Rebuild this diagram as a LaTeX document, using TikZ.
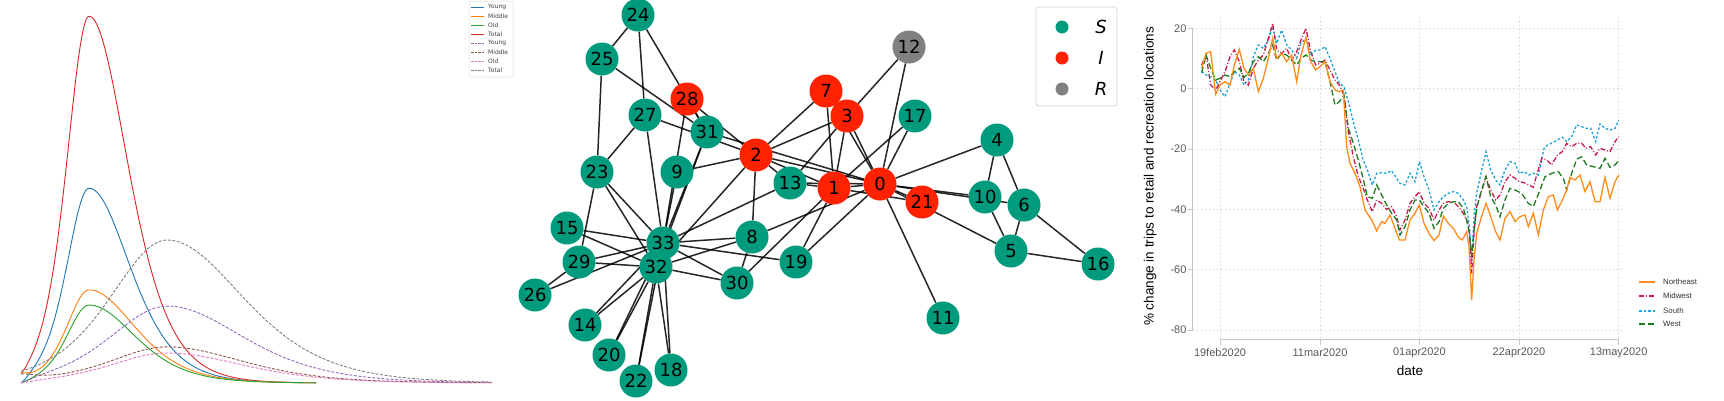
\documentclass[tikz,border=0pt]{standalone}
\usepackage{fontspec}
\setmainfont{DejaVu Sans}
\newfontfamily\arialf{Liberation Sans}
\pgfdeclarelayer{bg}
\pgfsetlayers{bg,main}
\definecolor{tabblue}{HTML}{1F77B4}
\definecolor{taborange}{HTML}{FF7F0E}
\definecolor{tabgreen}{HTML}{2CA02C}
\definecolor{tabred}{HTML}{D62728}
\definecolor{tabpurple}{HTML}{9467BD}
\definecolor{tabbrown}{HTML}{8C564B}
\definecolor{tabpink}{HTML}{E377C2}
\definecolor{tabgray}{HTML}{7F7F7F}
\definecolor{cS}{HTML}{009B7D}
\definecolor{cI}{HTML}{FF2200}
\definecolor{cR}{HTML}{808080}
\definecolor{neC}{HTML}{FF8C1A}
\definecolor{mwC}{HTML}{CC1A4C}
\definecolor{soC}{HTML}{1CA3DA}
\definecolor{weC}{HTML}{1E7A1E}
\begin{document}
\begin{tikzpicture}[x=1pt,y=-1pt,
  declare function={sk(\t,\p,\l,\r)=1/(cosh((\t-\p)/(((\t<\p)*\l)+((\t>=\p)*\r))))^2;
                    bump(\t,\w)=1/(1+((\t-21)/\w)^2);},
  sol/.style={line width=0.9pt},
  dsh/.style={line width=0.9pt, dash pattern=on 3pt off 1.6pt},
  gn/.style={circle, inner sep=0pt, minimum size=33pt, font=\fontsize{18}{18}\selectfont, text=black},
  edge/.style={line width=1.5pt, black, opacity=0.85},
  grd/.style={gray!45, line width=0.6pt, dash pattern=on 0.8pt off 3.2pt},
  ax/.style={gray!45, line width=0.9pt},
  tkl/.style={font=\arialf\fontsize{11}{13}\selectfont, text=black!65},
  ne/.style={neC, line width=1.3pt},
  mw/.style={mwC, line width=1.3pt, dash pattern=on 5pt off 2pt on 1pt off 2pt},
  so/.style={soC, line width=1.3pt, dash pattern=on 2.5pt off 2pt},
  we/.style={weC, line width=1.3pt, dash pattern=on 6pt off 3pt},
  lgt/.style={font=\fontsize{6}{7}\selectfont, text=black!75, anchor=west, inner sep=0pt},
  lg3/.style={font=\arialf\fontsize{7.8}{9}\selectfont, text=black!80, anchor=west, inner sep=0pt}]
\useasboundingbox (0,0) rectangle (1724,400);
\begin{pgfonlayer}{bg}
\fill[white] (0,0) rectangle (1724,400);
\end{pgfonlayer}

% ---------------- panel 1 : curves ----------------
\draw[sol, tabred] plot[domain=21:316, samples=160] (\x,{383-367*sk(\x,89,30,52)+6*bump(\x,10)});
\draw[sol, tabblue] plot[domain=21:316, samples=160] (\x,{383-195*sk(\x,89,30,55)+8*bump(\x,10)});
\draw[sol, taborange] plot[domain=21:316, samples=160] (\x,{383-93*sk(\x,89,30,62)-6*bump(\x,10)});
\draw[sol, tabgreen] plot[domain=21:316, samples=160] (\x,{383-78*sk(\x,89,30,62)+3*bump(\x,10)});
\draw[dsh, tabgray] plot[domain=21:492, samples=160] (\x,{383-143*sk(\x,167,76,102)});
\draw[dsh, tabpurple] plot[domain=21:492, samples=160] (\x,{383-77*sk(\x,167,76,102)+6*bump(\x,15)});
\draw[dsh, tabbrown] plot[domain=21:492, samples=160] (\x,{383-36*sk(\x,167,76,102)-6*bump(\x,20)});
\draw[dsh, tabpink] plot[domain=21:492, samples=160] (\x,{383-30*sk(\x,167,76,102)+2.3*bump(\x,15)});

% legend panel 1
\draw[rounded corners=2pt, draw=gray!30, fill=white, line width=0.5pt] (469,1) rectangle (513,77);
\foreach \k/\t/\c/\s in {0/Young/tabblue/sol,1/Middle/taborange/sol,2/Old/tabgreen/sol,3/Total/tabred/sol,
                        4/Young/tabpurple/dsh,5/Middle/tabbrown/dsh,6/Old/tabpink/dsh,7/Total/tabgray/dsh}{
  \draw[\s, \c, dash pattern=on 2.5pt off 1.2pt] (471,{7+9.1*\k}) -- (484,{7+9.1*\k});
  \ifnum\k<4 \draw[sol,\c] (471,{7+9.1*\k}) -- (484,{7+9.1*\k}); \fi
  \node[lgt] (lg\k) at (488,{7+9.1*\k}) {\t};
}

% ---------------- panel 2 : graph ----------------
\foreach \i/\x/\y/\c in {0/880/184/cI, 1/834/188/cI, 2/756/155/cI, 3/847/116/cI, 4/997/140/cS,
  5/1011/251/cS, 6/1024/205/cS, 7/826/91/cI, 8/752/237/cS, 9/677/172/cS, 10/985/197/cS,
  11/943/318/cS, 12/909/47/cR, 13/790/183/cS, 14/585/325/cS, 15/567/228/cS, 16/1098/264/cS,
  17/915/116/cS, 18/671/370/cS, 19/796/262/cS, 20/609/355/cS, 21/922/202/cI, 22/636/381/cS,
  23/597/172/cS, 24/638/15/cS, 25/602/59/cS, 26/535/295/cS, 27/645/115/cS, 28/687/99/cI,
  29/579/262/cS, 30/737/283/cS, 31/707/132/cS, 32/656/267/cS, 33/663/243/cS}{
  \node[gn, fill=\c] (n\i) at (\x,\y) {\i};
}
\begin{pgfonlayer}{bg}
\foreach \a/\b in {0/1,0/2,0/3,0/4,0/5,0/6,0/7,0/8,0/10,0/11,0/12,0/13,0/17,0/19,0/21,0/31,
  1/2,1/3,1/7,1/13,1/17,1/19,1/21,1/30,
  2/3,2/7,2/8,2/9,2/13,2/27,2/28,2/32,
  3/7,3/12,3/13, 4/6,4/10, 5/6,5/10,5/16, 6/16,
  8/30,8/32,8/33, 9/33, 13/33, 14/32,14/33, 15/32,15/33, 18/32,18/33, 19/33,
  20/32,20/33, 22/32,22/33, 23/25,23/27,23/29,23/32,23/33, 24/25,24/27,24/31, 25/31,
  26/29,26/33, 27/33, 28/31,28/33, 29/32,29/33, 30/32,30/33, 31/32,31/33, 32/33}{
  \draw[edge] (n\a) -- (n\b);
}
\end{pgfonlayer}
% legend panel 2
\draw[rounded corners=3pt, draw=gray!35, fill=white, line width=0.8pt] (1036,7) rectangle (1117,106);
\foreach \k/\c/\t in {0/cS/S,1/cI/I,2/cR/R}{
  \fill[\c] (1062,{27+31*\k}) circle (6.5);
  \node[font=\fontsize{18}{18}\selectfont\itshape, inner sep=0pt] (gl\k) at (1101,{27+31*\k}) {\t};
}

% ---------------- panel 3 : Stata chart ----------------
\begin{scope}[xshift=1120pt, x=0.333333pt, y=-0.333333pt]
  \foreach \yy in {85,266,447,628,809,990} \draw[grd] (218,\yy) -- (1510,\yy);
  \foreach \xx in {300,600,898,1197,1496} \draw[grd] (\xx,50) -- (\xx,1018);
  \draw[ax] (218,85) -- (218,990);
  \foreach \yy/\t in {85/20,266/0,447/-20,628/-40,809/-60,990/-80}{
    \draw[ax] (203,\yy) -- (218,\yy);
    \node[tkl, anchor=east, inner sep=0pt] (yt\yy) at (200,\yy) {\t};
  }
  \draw[ax] (300,1018) -- (1496,1018);
  \foreach \xx/\t in {300/19feb2020,600/11mar2020,898/01apr2020,1197/22apr2020,1496/13may2020}{
    \draw[ax] (\xx,1018) -- (\xx,1036);
    \node[tkl, inner sep=0pt] (xt\xx) at (\xx,1058) {\t};
  }
  % South
  \draw[so] plot coordinates {(245,215) (258,225) (272,230) (287,240) (300,270) (315,290) (330,250) (343,215) (358,225) (372,255) (385,240) (400,170) (415,135) (430,145) (445,120) (458,80) (470,130) (485,90) (500,135) (515,150) (530,175) (543,130) (558,115) (572,165) (587,150) (600,150) (615,140) (630,175) (645,215) (658,250) (672,260) (685,305) (700,365) (715,420) (728,475) (742,510) (757,555) (770,520) (785,518) (800,520) (815,512) (830,535)
  (840,550) (855,555) (870,520) (885,545) (898,485) (912,530) (927,570) (942,630) (957,605) (970,590) (985,580) (1000,575) (1015,580) (1030,600) (1040,620) (1048,680) (1055,780) (1062,650) (1070,580) (1083,520) (1098,455) (1112,510) (1127,540) (1140,555) (1155,510) (1170,485) (1185,490) (1198,520) (1212,515) (1227,525) (1240,520) (1255,525) (1265,480) (1272,445) (1283,435) (1298,428) (1312,420) (1327,412) (1340,425) (1355,410) (1370,375) (1385,380) (1398,385) (1412,385) (1427,425) (1440,372) (1455,385) (1470,390) (1485,385) (1496,360)};
  % Midwest
  \draw[mw] plot coordinates {(245,195) (258,165) (272,255) (287,270) (300,245) (315,215) (330,170) (343,150) (358,185) (372,245) (385,255) (400,205) (415,180) (430,165) (445,115) (458,70) (470,150) (485,160) (500,145) (515,180) (530,155) (543,120) (558,85) (572,155) (587,195) (600,190) (615,180) (630,210) (645,240) (658,255) (672,285) (685,395) (700,470) (715,530) (728,560) (742,600) (757,635) (770,600) (785,610) (800,628) (815,620) (830,650)
  (840,690) (855,660) (870,610) (885,590) (898,575) (912,610) (927,625) (942,660) (957,630) (970,610) (985,605) (1000,605) (1015,620) (1030,640) (1040,660) (1048,690) (1055,820) (1062,700) (1070,620) (1083,580) (1098,530) (1112,570) (1127,600) (1140,585) (1155,545) (1170,525) (1185,535) (1198,545) (1212,548) (1227,555) (1240,562) (1250,525) (1265,475) (1280,480) (1295,495) (1312,465) (1327,455) (1340,430) (1355,440) (1370,430) (1385,430) (1398,445) (1412,440) (1427,465) (1440,445) (1455,450) (1470,455) (1485,425) (1496,410)};
  % West
  \draw[we] plot coordinates {(245,218) (258,165) (272,205) (287,240) (300,235) (315,225) (330,230) (343,215) (358,205) (372,232) (385,220) (400,185) (415,170) (430,185) (445,160) (458,135) (470,180) (485,160) (500,165) (515,180) (530,195) (543,175) (558,165) (572,180) (587,185) (600,185) (615,185) (630,245) (645,315) (658,305) (672,285) (685,385) (700,430) (715,480) (728,530) (742,590) (757,595) (770,555) (785,585) (800,615) (815,640) (830,660)
  (840,705) (855,680) (870,630) (885,600) (898,600) (912,620) (927,640) (942,685) (957,665) (970,625) (985,610) (1000,605) (1015,605) (1030,625) (1040,660) (1048,700) (1055,770) (1062,690) (1070,625) (1083,575) (1098,530) (1112,590) (1127,615) (1140,650) (1155,600) (1170,565) (1185,570) (1205,580) (1225,610) (1240,620) (1260,570) (1275,530) (1295,520) (1315,515) (1330,535) (1340,570) (1355,520) (1370,478) (1385,470) (1400,495) (1420,500) (1440,505) (1455,475) (1470,502) (1485,495) (1496,482)};
  % Northeast
  \draw[ne] plot coordinates {(245,205) (258,160) (272,155) (287,283) (300,255) (315,245) (330,255) (343,195) (358,148) (372,205) (385,225) (400,205) (415,275) (430,235) (445,175) (458,115) (470,175) (485,160) (500,185) (515,165) (530,245) (543,165) (558,112) (572,185) (587,210) (600,200) (615,185) (630,245) (645,270) (658,275) (670,270) (680,440) (690,490) (705,520) (720,560) (735,630) (755,660) (770,692) (785,665) (795,670) (810,645) (825,685) (838,720)
  (855,720) (870,660) (885,640) (898,615) (912,670) (927,700) (942,722) (957,705) (970,648) (985,670) (1000,685) (1015,712) (1027,720) (1040,695) (1047,740) (1055,900) (1062,780) (1070,700) (1083,655) (1098,610) (1112,650) (1127,695) (1140,720) (1155,655) (1170,635) (1185,665) (1200,650) (1215,645) (1225,680) (1240,640) (1255,705) (1270,630) (1285,590) (1300,585) (1312,630) (1325,605) (1340,570) (1350,532) (1365,540) (1380,525) (1395,575) (1410,545) (1425,605) (1440,605) (1455,532) (1470,595) (1485,545) (1497,525)};
\end{scope}
\node[font=\arialf\fontsize{13.5}{15}\selectfont, rotate=90] (ytitle) at (1150,176.5) {\% change in trips to retail and recreation locations};
\node[font=\arialf\fontsize{13.5}{15}\selectfont] (xtitle) at (1410,371) {date};
% legend panel 3
\foreach \k/\s/\t/\yy in {0/ne/Northeast/282,1/mw/Midwest/296,2/so/South/311,3/we/West/324}{
  \draw[\s] (1639,\yy) -- (1655,\yy);
  \node[lg3] (l3\k) at (1663,\yy) {\t};
}
\end{tikzpicture}
\end{document}
